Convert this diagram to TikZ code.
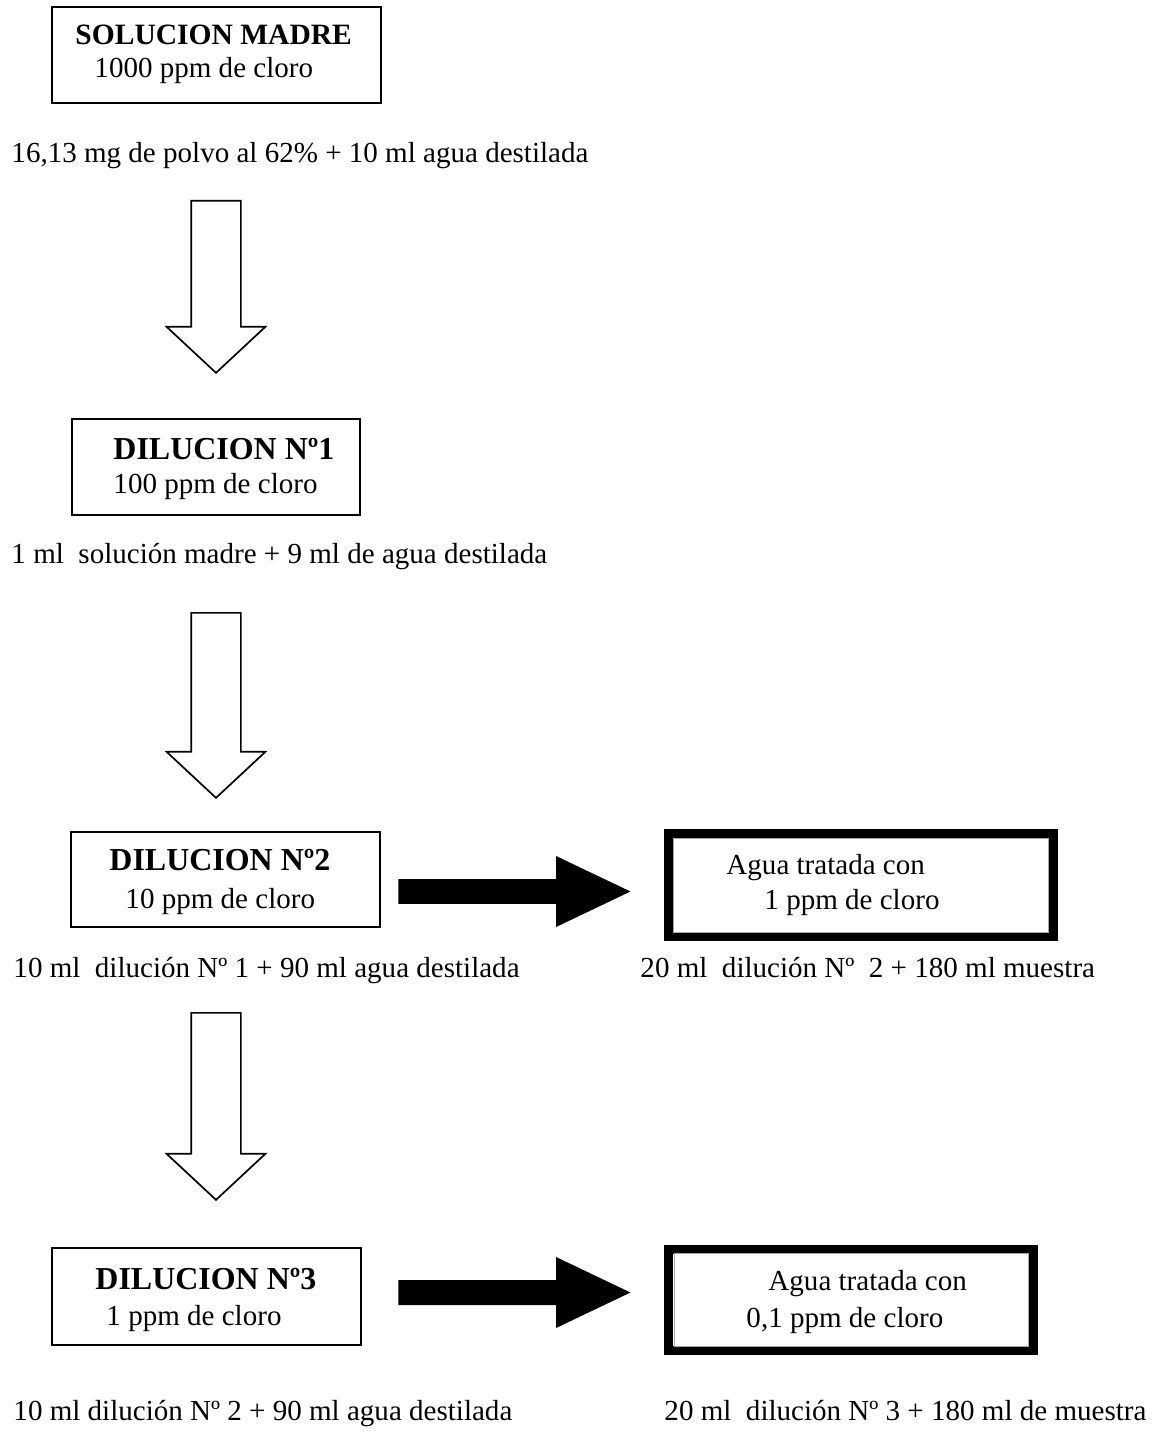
\documentclass[tikz,border=0pt]{standalone}
\usepackage{fontspec}
\setmainfont{Liberation Serif}
\usetikzlibrary{shapes,arrows}
\newlength{\pxu}
\setlength{\pxu}{0.4132pt}

\begin{document}
\begin{tikzpicture}[
        x=\pxu, y=-\pxu
        , caja/.style={
             rectangle
            , draw=black
            , line width=2\pxu
            , inner sep=0pt
        }
        , cajagruesa/.style={
             rectangle
            , draw=black
            , line width=9\pxu
            , inner sep=0pt
        }
        , borde/.style={
             rectangle
            , draw=black!35
            , line width=1\pxu
            , inner sep=0pt
        }
        , titulo/.style={
             anchor=base west
            , inner sep=0pt
            , font=\fontsize{13.2}{15}\selectfont\bfseries
        }
        , texto/.style={
             anchor=base west
            , inner sep=0pt
            , font=\fontsize{12}{14}\selectfont
        }
        , hueca/.style={
             single arrow
            , draw=black
            , line width=1.7\pxu
            , inner xsep=0pt
            , inner ysep=24\pxu
            , rotate=-90
            , anchor=tail
            , single arrow head extend=24.5\pxu
            , single arrow tip angle=94
        }
        , llena/.style={
             single arrow
            , fill=black
            , inner xsep=0pt
            , inner ysep=12\pxu
            , anchor=tail
            , minimum height=232\pxu
            , single arrow head extend=23\pxu
            , single arrow tip angle=51
        }
        ]
        \useasboundingbox (0,0) rectangle (1155,1433);

        \node[caja, minimum width=329\pxu, minimum height=96\pxu] (madre) at (216.5,55) {};
        \node[titulo, font=\fontsize{12.2}{14}\selectfont\bfseries] (madreT) at (75,45) {SOLUCION MADRE};
        \node[texto] (madreC) at (94,78) {1000 ppm de cloro};
        \node[texto] (prep0) at (11,163) {16,13 mg de polvo al 62\% + 10 ml agua destilada};

        \node[hueca, minimum height=172\pxu] (f1) at (216,200) {};

        \node[caja, minimum width=288\pxu, minimum height=96\pxu] (dil1) at (216,467) {};
        \node[titulo] (dil1T) at (113,459) {DILUCION Nº1};
        \node[texto] (dil1C) at (113,493) {100 ppm de cloro};
        \node[texto] (prep1) at (11,563) {1 ml\ \ solución madre + 9 ml de agua destilada};

        \node[hueca, minimum height=185\pxu] (f2) at (216,612) {};

        \node[caja, minimum width=309\pxu, minimum height=95\pxu] (dil2) at (225.5,879.5) {};
        \node[titulo] (dil2T) at (109,870) {DILUCION Nº2};
        \node[texto] (dil2C) at (125,908) {10 ppm de cloro};
        \node[texto] (prep2) at (13,977) {10 ml\ \ dilución Nº 1 + 90 ml agua destilada};

        \node[llena] (g1) at (398,891.5) {};

        \node[cajagruesa, minimum width=385\pxu, minimum height=103\pxu] (agua1) at (861,885) {};
        \node[borde, minimum width=375\pxu, minimum height=94\pxu] (agua1b) at (agua1.center) {};
        \node[texto] (agua1T) at (726,874) {Agua tratada con};
        \node[texto] (agua1C) at (764,909) {1 ppm de cloro};
        \node[texto] (mezcla1) at (640,977) {20 ml\ \ dilución Nº\ \ 2 + 180 ml muestra};

        \node[hueca, minimum height=187\pxu] (f3) at (216,1012) {};

        \node[caja, minimum width=309\pxu, minimum height=97\pxu] (dil3) at (206.5,1296.5) {};
        \node[titulo] (dil3T) at (95,1289) {DILUCION Nº3};
        \node[texto] (dil3C) at (106,1325) {1 ppm de cloro};
        \node[texto] (prep3) at (13,1420) {10 ml dilución Nº 2 + 90 ml agua destilada};

        \node[llena] (g2) at (398,1292.5) {};

        \node[cajagruesa, minimum width=365\pxu, minimum height=101\pxu] (agua2) at (851,1300) {};
        \node[borde, minimum width=354\pxu, minimum height=93\pxu] (agua2b) at (agua2.center) {};
        \node[texto] (agua2T) at (768,1290) {Agua tratada con};
        \node[texto] (agua2C) at (746,1327) {0,1 ppm de cloro};
        \node[texto] (mezcla2) at (664,1420) {20 ml\ \ dilución Nº 3 + 180 ml de muestra};

    \end{tikzpicture}
\end{document}
